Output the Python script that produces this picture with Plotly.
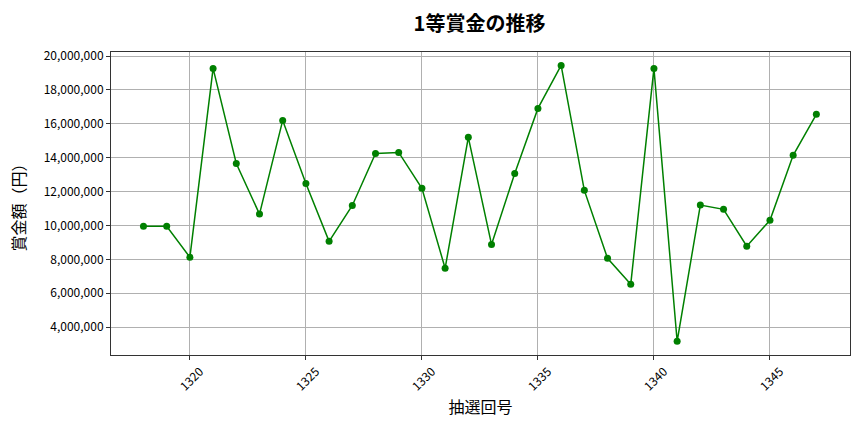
import plotly.graph_objects as go

# draw numbers (抽選回号) and 1st prize amounts (円)
draw_numbers = list(range(1318, 1348))
prize_amounts = [
    9950000, 9950000, 8120000, 19270000, 13660000, 10670000, 16200000, 12480000,
    9060000, 11180000, 14250000, 14310000, 12190000, 7470000, 15200000, 8880000,
    13070000, 16910000, 19450000, 12070000, 8060000, 6520000, 19270000, 3160000,
    11200000, 10950000, 8770000, 10300000, 14140000, 16560000,
]
x_ticks = [1320, 1325, 1330, 1335, 1340, 1345]
y_ticks = [4000000, 6000000, 8000000, 10000000, 12000000, 14000000, 16000000, 18000000, 20000000]

font_family = "Noto Sans CJK JP"

fig = go.Figure()
fig.add_trace(go.Scatter(
    x=draw_numbers,
    y=prize_amounts,
    mode="lines+markers",
    line=dict(color="green", width=1.5),
    marker=dict(color="green", size=7),
))

fig.update_layout(
    width=864,
    height=432,
    margin=dict(l=111, r=14, t=52, b=77),
    paper_bgcolor="white",
    plot_bgcolor="white",
    showlegend=False,
    font=dict(family=font_family, color="black"),
    title=dict(text="<b>1等賞金の推移</b>", x=0.555, xanchor="center", y=0.945,
               yanchor="middle", font=dict(size=20)),
)

fig.update_xaxes(
    title=dict(text="抽選回号", font=dict(size=16), standoff=9),
    range=[1316.6, 1348.45],
    tickvals=x_ticks,
    tickangle=-45,
    tickfont=dict(size=12),
    ticklabelshift=10,  # centre the slanted labels on their ticks
    showgrid=True, gridcolor="#b0b0b0", gridwidth=0.8,
    showline=True, linecolor="#333333", linewidth=1, mirror=True,
    ticks="outside", ticklen=4, tickcolor="#333333",
    zeroline=False,
)
fig.update_yaxes(
    title=dict(text="賞金額（円）", font=dict(size=16), standoff=14),
    range=[2350000, 20240000],
    tickvals=y_ticks,
    tickformat=",d",
    tickfont=dict(size=12),
    showgrid=True, gridcolor="#b0b0b0", gridwidth=0.8,
    showline=True, linecolor="#333333", linewidth=1, mirror=True,
    ticks="outside", ticklen=4, tickcolor="#333333",
    zeroline=False,
)

# remove the default page margin so the figure sits at the window's corner
fig.write_html("out.html", config={"displayModeBar": False},
               post_script="document.body.style.margin = '0';")
